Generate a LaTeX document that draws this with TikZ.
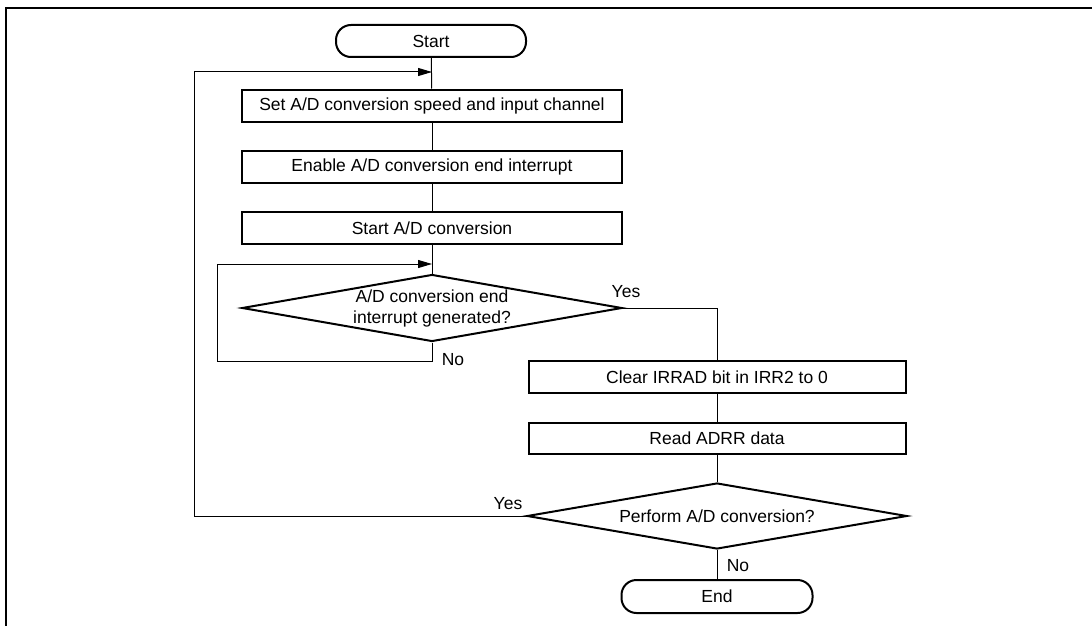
\documentclass[tikz,border=0pt]{standalone}
\usepackage{fontspec}
\setmainfont{Liberation Sans}
\usetikzlibrary{arrows.meta,shapes.geometric}
\begin{document}
\begin{tikzpicture}[x=1pt,y=-1pt,
  every node/.style={font=\fontsize{17.5}{21}\selectfont},
  procbox/.style={draw,line width=2pt,minimum height=32pt,minimum width=380pt,inner sep=0pt,anchor=center},
  term/.style={draw,line width=2pt,rounded corners=15pt,minimum height=32pt,minimum width=190pt,inner sep=0pt},
  decision/.style={draw,line width=2pt,diamond,aspect=5.6,minimum width=380pt,minimum height=67pt,inner sep=0pt,align=center},
  conn/.style={line width=1pt},
  arr/.style={line width=1pt,-{Triangle[length=14pt,width=8pt]}},
  lbl/.style={inner sep=0pt}]
\useasboundingbox (0,0) rectangle (1092,626);
\draw[line width=2.5pt] (6,626) -- (6,8) -- (1092,8);

\node[term] (start) at (431,41) {Start};
\node[procbox] (b1) at (432,105.5) {Set A/D conversion speed and input channel};
\node[procbox] (b2) at (432,167) {Enable A/D conversion end interrupt};
\node[procbox] (b3) at (432,228) {Start A/D conversion};
\node[decision] (d1) at (432,308) {A/D conversion end\\interrupt generated?};
\node[procbox,minimum width=377pt] (b4) at (717,377) {Clear IRRAD bit in IRR2 to 0};
\node[procbox,minimum width=377pt,minimum height=31pt] (b5) at (717,438.5) {Read ADRR data};
\node[decision,minimum height=66pt] (d2) at (717,516) {Perform A/D conversion?};
\node[term,minimum width=191pt,minimum height=33pt] (end) at (717,596.5) {End};

\coordinate (top1) at (432,72);
\coordinate (top2) at (432,264);
\coordinate (yes1) at (717,308);

\draw[conn] (start) -- (b1);
\draw[conn] (b1) -- (b2);
\draw[conn] (b2) -- (b3);
\draw[conn] (b3) -- (d1);
\draw[arr] (d2.west) -| (194,72) -- (top1);
\draw[arr] (d1.south) |- (217,361) |- (top2);
\draw[conn] (d1.east) -- (yes1) -- (b4.north);
\draw[conn] (b4) -- (b5);
\draw[conn] (b5) -- (d2);
\draw[conn] (d2) -- (end);

\node[lbl] (y1) at (626,292) {Yes};
\node[lbl] (n1) at (453,360) {No};
\node[lbl] (y2) at (508,504) {Yes};
\node[lbl] (n2) at (738,566) {No};
\end{tikzpicture}
\end{document}
